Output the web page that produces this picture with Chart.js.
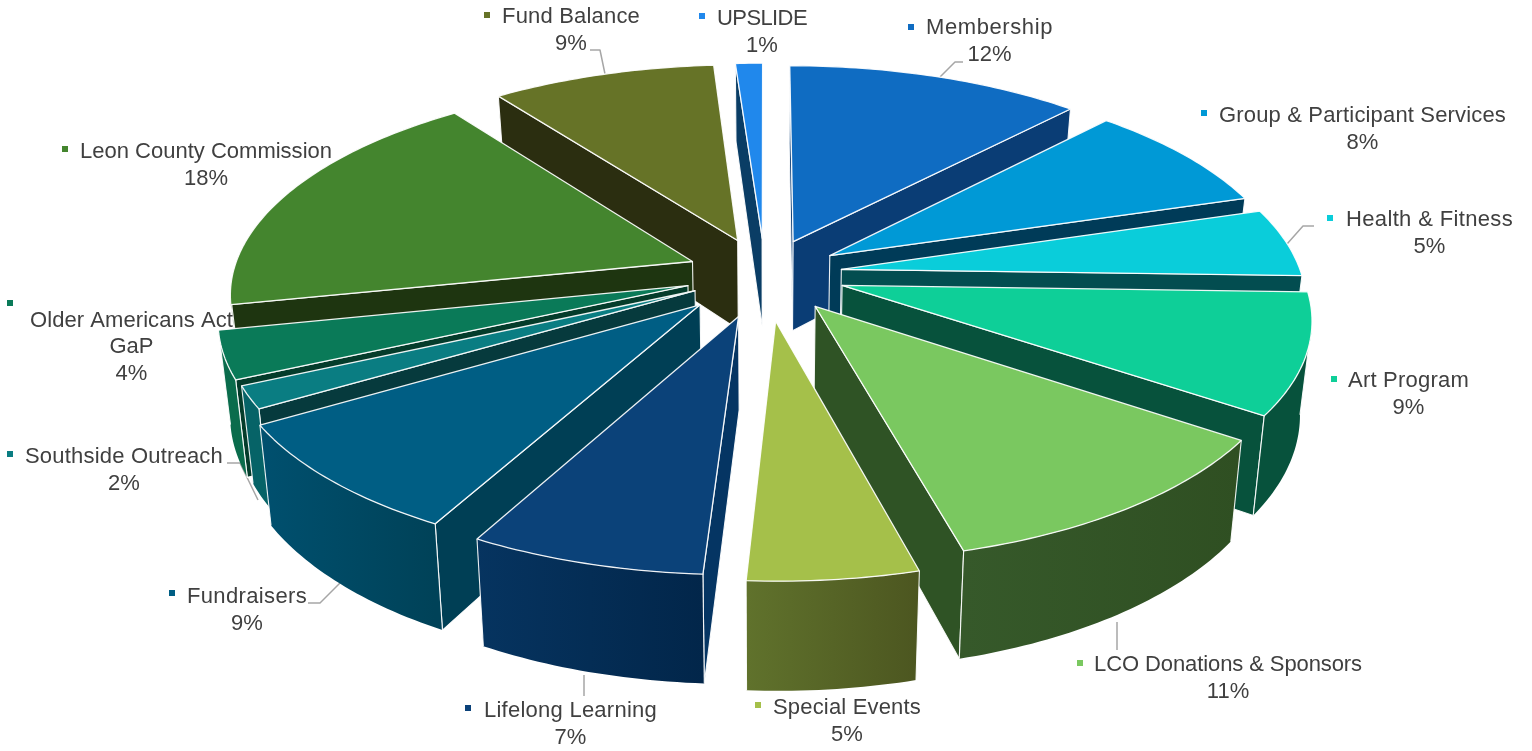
<!DOCTYPE html>
<html><head><meta charset="utf-8">
<style>html,body{margin:0;padding:0;background:#fff}#w{width:1532px;height:751px}canvas{display:block}</style>
<script src="https://cdn.jsdelivr.net/npm/chart.js@4/dist/chart.umd.js"></script>
</head><body><div id="w"><canvas id="c" width="1532" height="751"></canvas></div>
<script>
const categories=["Membership","Group & Participant Services","Health & Fitness","Art Program","LCO Donations & Sponsors","Special Events","Lifelong Learning","Fundraisers","Southside Outreach","Older Americans Act GaP","Leon County Commission","Fund Balance","UPSLIDE"];
const values=[12,8.3,5.2,9.1,11.3,5.05,7,8.55,1.7,3.6,18.1,9.1,1.1];
const topColors=["#0F6CC2","#0099D6","#0ACDDA","#0ECF98","#7AC860","#A5C04A","#0B4279","#005E84","#0A7D82","#0A7A58","#44852E","#667327","#2088EC"];
const wallL=["#0A3D75","#003B58","#034D50","#07523C","#36592A","#60722C","#063460","#00506F","#066367","#0A6C4C","#26441A","#2B2E10","#0A3D65"];
const wallR=["#0A3D75","#003B58","#034D50","#07523C","#2F4F22","#4C5620","#02264A","#004258","#066367","#0A6C4C","#26441A","#2B2E10","#0A3D65"];
const cutColors=["#0A3D75","#003B58","#034D50","#07523C","#2F5325","#5A6A28","#053563","#003F55","#063A3D","#043C2B","#1E3510","#2B2E10","#0A3D65"];
const explode=[.17,.168,.168,.175,.185,.22,.205,.2,.17,.175,.17,.175,.175];
const keyX=[911,1204,1330,1334,1080,758,468,172,10,10,65,487,702];
const keyY=[27,113,218,379,663,705,708,593,454,303,149,15,16];
const nameX=[926,1219,1346,1348,1094,773,484,187,25,30,80,502,717];
const nameY=[28,116,220,381,665,708,711,597,457,321,152,17,19];
const nameW=[127,287,167,121,268,148,173,120,198,203,252,138,90];
const leaders=[[[940,77],[955,62],[963,62]],[],[[1287,244],[1303,226],[1314,226]],[],[[1117,622],[1117,650]],[],[[584,675],[584,696]],[[308,603],[320,603],[340,583]],[[227,463],[240,463],[258,500]],[],[],[[605,74],[600,50],[590,50]],[]];

const CX=765,CY=274,RX=460,RY=209,DEPTH=91,PERSP=.14,TAPER=.022;
function proj(t,r,sl,h){
  const u=Math.sin(t)*r+Math.sin(sl.mid)*sl.e, v=-Math.cos(t)*r-Math.cos(sl.mid)*sl.e;
  const w=1/(1-PERSP*v);
  return [CX+RX*u*w*(1-TAPER*h), CY+RY*v*w+DEPTH*h*w];
}
function poly(ctx,pts){ctx.beginPath();pts.forEach((p,i)=>i?ctx.lineTo(p[0],p[1]):ctx.moveTo(p[0],p[1]));ctx.closePath();}
function side(a,b,p){return (b[0]-a[0])*(p[1]-a[1])-(b[1]-a[1])*(p[0]-a[0]);}

const pie3d={id:'pie3d',
 beforeDatasetsDraw(chart){
  const ctx=chart.ctx, arcs=chart.getDatasetMeta(0).data;
  const slices=arcs.map((a,i)=>{
    const s=a.startAngle+Math.PI/2,en=a.endAngle+Math.PI/2;
    return {i,s,en,mid:(s+en)/2,e:explode[i]};
  }).sort((a,b)=>Math.cos(b.mid)-Math.cos(a.mid));
  ctx.save();ctx.lineJoin='round';
  leaders.forEach(l=>{if(!l.length)return;ctx.strokeStyle='#a6a6a6';ctx.lineWidth=1.5;ctx.beginPath();l.forEach((p,i)=>i?ctx.lineTo(p[0],p[1]):ctx.moveTo(p[0],p[1]));ctx.stroke();});
  for(const sl of slices){
    const i=sl.i,N=Math.max(6,Math.round((sl.en-sl.s)*60));
    const tip=proj(0,0,sl,0),tipB=proj(0,0,sl,1),M=proj(sl.mid,.5,sl,0);
    const arcT=[],arcB=[];
    for(let k=0;k<=N;k++){const t=sl.s+(sl.en-sl.s)*k/N;arcT.push(proj(t,1,sl,0));arcB.push(proj(t,1,sl,1));}
    ctx.strokeStyle='rgba(255,255,255,.92)';ctx.lineWidth=1.1;
    [[arcT[0],arcB[0]],[arcT[N],arcB[N]]].forEach(([o,oB])=>{
      if(side(tip,o,M)*side(tip,o,[(tip[0]+o[0])/2,(tip[1]+o[1])/2+10])<0){
        poly(ctx,[tip,o,oB,tipB]);ctx.fillStyle=cutColors[i];ctx.fill();ctx.stroke();
      }
    });
    let first=-1,last=-1;
    for(let k=0;k<N;k++){
      if(arcT[k+1][0]<arcT[k][0]&&(first<0||last===k)){if(first<0)first=k;last=k+1;}
    }
    if(first>=0){
      const xs=arcT.slice(first,last+1).map(p=>p[0]);
      const g=ctx.createLinearGradient(Math.min(...xs),0,Math.max(...xs),0);
      g.addColorStop(0,wallL[i]);g.addColorStop(1,wallR[i]);
      poly(ctx,[...arcT.slice(first,last+1),...arcB.slice(first,last+1).reverse()]);
      ctx.fillStyle=g;ctx.fill();
      ctx.strokeStyle='rgba(255,255,255,.92)';ctx.lineWidth=1.1;
      [first,last].forEach(k=>{ctx.beginPath();ctx.moveTo(...arcT[k]);ctx.lineTo(...arcB[k]);ctx.stroke();});
    }
    poly(ctx,[tip,...arcT]);ctx.fillStyle=topColors[i];ctx.fill();
    ctx.strokeStyle='rgba(255,255,255,.92)';ctx.lineWidth=1.3;ctx.stroke();
  }
  ctx.restore();
  return false;
 },
 afterDraw(chart){
  const ctx=chart.ctx;ctx.save();
  ctx.font='22px "Liberation Sans"';ctx.textBaseline='middle';
  const total=values.reduce((a,b)=>a+b,0);
  function fit(txt,w){ctx.letterSpacing='0px';const m=ctx.measureText(txt).width;ctx.letterSpacing=((w-m)/txt.length)+'px';}
  categories.forEach((name,i)=>{
    ctx.fillStyle=topColors[i];ctx.fillRect(keyX[i]-3,keyY[i]-3,6,6);
    ctx.fillStyle='#404040';ctx.textAlign='left';
    const pct=Math.round(values[i]/total*100)+'%';
    const older=name==="Older Americans Act GaP";
    const a=older?"Older Americans Act":name;
    fit(a,nameW[i]);ctx.fillText(a,nameX[i],nameY[i]);
    ctx.letterSpacing='0px';ctx.textAlign='center';
    const c=nameX[i]+nameW[i]/2;
    if(older){ctx.fillText("GaP",c,nameY[i]+26);ctx.fillText(pct,c,nameY[i]+53);}
    else ctx.fillText(pct,c,nameY[i]+27);
  });
  ctx.restore();
 }};

new Chart(document.getElementById('c'),{type:'pie',
 data:{labels:categories,datasets:[{data:values,backgroundColor:topColors,borderWidth:0}]},
 options:{responsive:false,animation:false,rotation:0,plugins:{legend:{display:false},tooltip:{enabled:false}}},
 plugins:[pie3d]});
</script></body></html>
